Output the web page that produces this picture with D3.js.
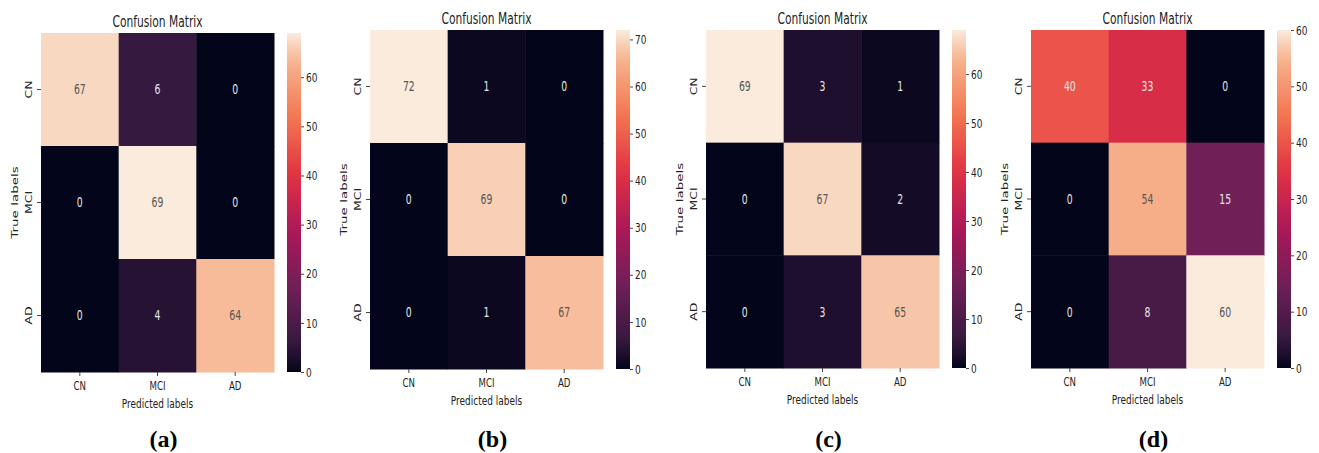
<!DOCTYPE html>
<html>
<head>
<meta charset="utf-8">
<script src="https://cdn.jsdelivr.net/npm/d3@7"></script>
<style>
  body { margin: 0; background: #fff; }
  svg { display: block; }
  .lbl { font-family: "DejaVu Sans", sans-serif; fill: #222; }
  .panel-tag { font-family: "Liberation Serif", "Times New Roman", serif; font-weight: bold; fill: #000; }
</style>
</head>
<body>
<svg id="chart" width="1319" height="453"></svg>
<script>
// class labels used on both axes
const categories = ["CN", "MCI", "AD"]

// confusion matrices, rows = true labels, columns = predicted labels
const matrixA = [[67, 6, 0], [0, 69, 0], [0, 4, 64]]
const matrixB = [[72, 1, 0], [0, 69, 0], [0, 1, 67]]
const matrixC = [[69, 3, 1], [0, 67, 2], [0, 3, 65]]
const matrixD = [[40, 33, 0], [0, 54, 15], [0, 8, 60]]

const panelTags = ["(a)", "(b)", "(c)", "(d)"]
const colorbarTicks = [0, 10, 20, 30, 40, 50, 60, 70]

// seaborn "rocket" colormap anchors
const rocketStops = [0, 1 / 12, 3 / 12, 5 / 12, 7 / 12, 9 / 12, 11 / 12, 1]
const rocketColors = ["#03051a", "#35193e", "#701f57", "#ad1759", "#e13342", "#f37651", "#f6b48f", "#faebdd"]

// layout of each subplot (heatmap box)
const panels = [
  { m: matrixA, tag: panelTags[0], left: 41, top: 33, bottom: 372 },
  { m: matrixB, tag: panelTags[1], left: 370, top: 30, bottom: 369 },
  { m: matrixC, tag: panelTags[2], left: 706, top: 30, bottom: 368 },
  { m: matrixD, tag: panelTags[3], left: 1031, top: 30, bottom: 368 }
]

const heatW = 233
const cbGap = 13
const cbW = 14
const sx = 0.69 // the source figure was squeezed sideways

const svg = d3.select("#chart")
svg.append("rect").attr("width", 1319).attr("height", 453).attr("fill", "#fff")
const defs = svg.append("defs")

const rocket = d3.scaleLinear().domain(rocketStops).range(rocketColors).interpolate(d3.interpolateRgb)

function textColor(c) {
  const rgb = d3.rgb(c)
  const lin = v => { v /= 255; return v <= 0.03928 ? v / 12.92 : Math.pow((v + 0.055) / 1.055, 2.4) }
  const lum = 0.2126 * lin(rgb.r) + 0.7152 * lin(rgb.g) + 0.0722 * lin(rgb.b)
  return lum > 0.408 ? "#555" : "#e6e6e6"
}

function squeezedText(g, x, y, str, size, rotate) {
  return g.append("text")
    .attr("class", "lbl")
    .attr("transform", `translate(${x}, ${y}) scale(${sx}, 1)` + (rotate ? " rotate(-90)" : ""))
    .attr("text-anchor", "middle")
    .style("font-size", size + "px")
    .text(str)
}

panels.forEach((p, pi) => {
  const vmax = d3.max(p.m.flat())
  const g = svg.append("g")

  const x = d3.scaleBand().domain(categories).range([p.left, p.left + heatW])
  const y = d3.scaleBand().domain(categories).range([p.top, p.bottom])
  const color = v => rocket(v / vmax)

  const cells = []
  p.m.forEach((row, ri) => row.forEach((v, ci) => cells.push({ r: categories[ri], c: categories[ci], v })))

  g.selectAll(".cell")
    .data(cells)
    .enter()
    .append("rect")
    .attr("class", "cell")
    .attr("x", d => x(d.c))
    .attr("y", d => y(d.r))
    .attr("width", x.bandwidth() + 0.5)
    .attr("height", y.bandwidth() + 0.5)
    .attr("fill", d => color(d.v))

  g.selectAll(".ann")
    .data(cells)
    .enter()
    .append("text")
    .attr("class", "lbl ann")
    .attr("transform", d => `translate(${x(d.c) + x.bandwidth() / 2}, ${y(d.r) + y.bandwidth() / 2}) scale(${sx}, 1)`)
    .attr("dy", "0.36em")
    .attr("text-anchor", "middle")
    .style("font-size", "13.5px")
    .style("fill", d => textColor(color(d.v)))
    .text(d => d.v)

  // axes
  const xAxis = g.append("g")
    .attr("transform", `translate(0, ${p.bottom})`)
    .call(d3.axisBottom(x).tickSize(4).tickPadding(5))
  const yAxis = g.append("g")
    .attr("transform", `translate(${p.left}, 0)`)
    .call(d3.axisLeft(y).tickSize(4).tickPadding(3))
  ;[xAxis, yAxis].forEach(a => {
    a.select(".domain").remove()
    a.selectAll(".tick line").attr("stroke", "#444")
    a.selectAll("text").attr("class", "lbl").style("font-size", "12.5px")
  })
  xAxis.selectAll(".tick text").attr("transform", `scale(${sx}, 1)`)
  yAxis.selectAll(".tick text")
    .attr("transform", `scale(${sx}, 1) rotate(-90)`)
    .attr("x", 0)
    .attr("y", -9 / sx)
    .attr("dy", 0)
    .attr("text-anchor", "middle")

  const cx = p.left + heatW / 2
  squeezedText(g, cx, p.top - 6.5, "Confusion Matrix", 15.5)
  squeezedText(g, cx, p.bottom + 36, "Predicted labels", 13)
  squeezedText(g, p.left - 23, (p.top + p.bottom) / 2, "True labels", 13.5, true)

  g.append("text")
    .attr("class", "panel-tag")
    .attr("x", cx + 6)
    .attr("y", 447)
    .attr("text-anchor", "middle")
    .style("font-size", "24px")
    .text(p.tag)

  // colorbar
  const cbX = p.left + heatW + cbGap
  const gradId = "grad" + pi
  const grad = defs.append("linearGradient")
    .attr("id", gradId)
    .attr("x1", 0).attr("y1", 1).attr("x2", 0).attr("y2", 0)
  d3.range(0, 1.0001, 0.05).forEach(t => {
    grad.append("stop").attr("offset", t).attr("stop-color", rocket(t))
  })
  g.append("rect")
    .attr("x", cbX)
    .attr("y", p.top)
    .attr("width", cbW)
    .attr("height", p.bottom - p.top)
    .attr("fill", `url(#${gradId})`)

  const cbScale = d3.scaleLinear().domain([0, vmax]).range([p.bottom, p.top])
  const cbAxis = g.append("g")
    .attr("transform", `translate(${cbX + cbW}, 0)`)
    .call(d3.axisRight(cbScale).tickValues(colorbarTicks.filter(t => t <= vmax)).tickSize(3).tickPadding(2))
  cbAxis.select(".domain").remove()
  cbAxis.selectAll(".tick line").attr("stroke", "#444")
  cbAxis.selectAll("text")
    .attr("class", "lbl")
    .style("font-size", "13px")
    .attr("x", 5 / sx)
    .attr("transform", `scale(${sx}, 1)`)
})
</script>
</body>
</html>
